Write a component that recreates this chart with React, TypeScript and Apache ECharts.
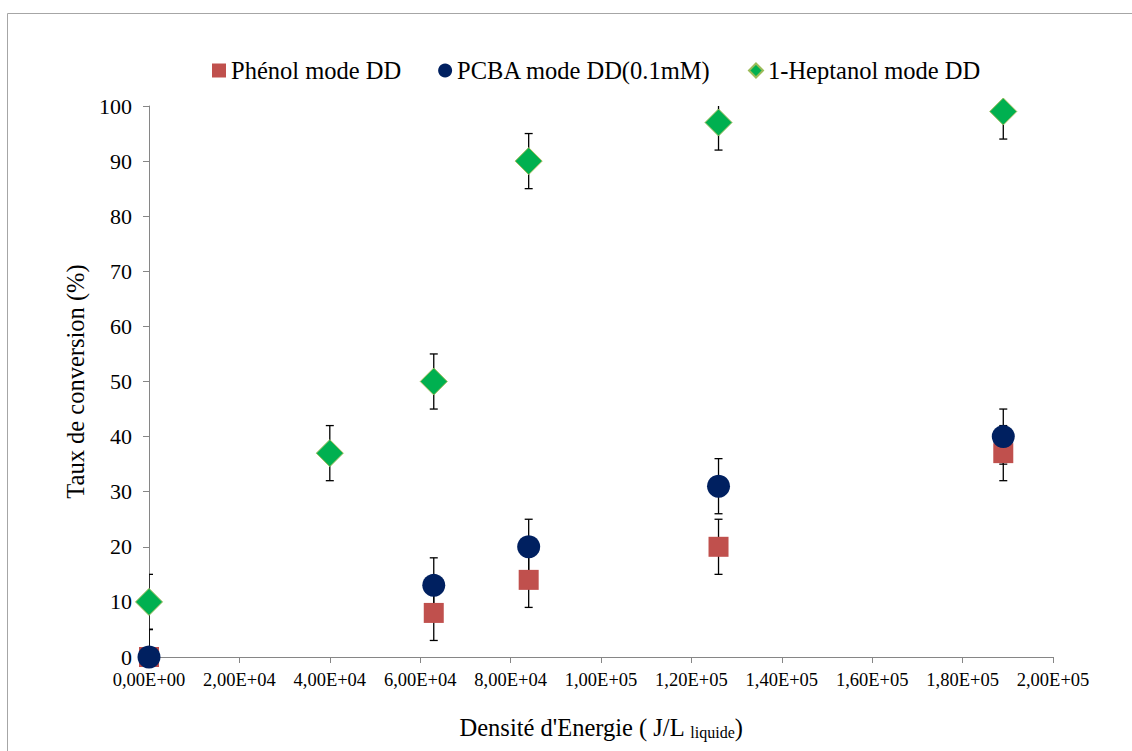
import React, { useEffect, useRef } from "react";
import * as echarts from "echarts";

const FONT = "Liberation Serif";

const seriesNames = ["Phénol mode DD", "PCBA mode DD(0.1mM)", "1-Heptanol mode DD"];

const phenolX = [0, 63000, 84000, 126000, 189000];
const phenolY = [0, 8, 14, 20, 37];
const phenolErr = [5, 5, 5, 5, 5];

const pcbaX = [0, 63000, 84000, 126000, 189000];
const pcbaY = [0, 13, 20, 31, 40];
const pcbaErr = [5, 5, 5, 5, 5];

const heptX = [0, 40000, 63000, 84000, 126000, 189000];
const heptY = [10, 37, 50, 90, 97, 99];
const heptErr = [5, 5, 5, 5, 5, 5];

const xTickValues = [0, 20000, 40000, 60000, 80000, 100000, 120000, 140000, 160000, 180000, 200000];
const yTickValues = [0, 10, 20, 30, 40, 50, 60, 70, 80, 90, 100];

const colors = ["#C0504D", "#002060", "#00B050"];

function sci(v: number): string {
  if (v === 0) return "0,00E+00";
  const e = Math.floor(Math.log10(v) + 1e-9);
  const m = v / Math.pow(10, e);
  const ee = (e < 10 ? "0" : "") + e;
  return m.toFixed(2).replace(".", ",") + "E+" + ee;
}

function errData(xs: number[], ys: number[], errs: number[]) {
  return xs.map((x, i) => [x, ys[i], ys[i] - errs[i], ys[i] + errs[i]]);
}

function pts(xs: number[], ys: number[]) {
  return xs.map((x, i) => [x, ys[i]]);
}

const renderErr = (params: any, api: any) => {
  const x = api.value(0);
  const lo = api.coord([x, api.value(2)]);
  const hi = api.coord([x, api.value(3)]);
  const hw = 4;
  const style = { stroke: "#000", lineWidth: 1.3 };
  return {
    type: "group",
    children: [
      { type: "line", shape: { x1: lo[0], y1: lo[1], x2: hi[0], y2: hi[1] }, style },
      { type: "line", shape: { x1: lo[0] - hw, y1: lo[1], x2: lo[0] + hw, y2: lo[1] }, style },
      { type: "line", shape: { x1: hi[0] - hw, y1: hi[1], x2: hi[0] + hw, y2: hi[1] }, style },
    ],
  };
};

export default function App() {
  const ref = useRef<HTMLDivElement>(null);
  useEffect(() => {
    if (!ref.current) return;
    const chart = echarts.init(ref.current, null, { renderer: "svg" });
    const axisLine = { lineStyle: { color: "#868686", width: 1 } };
    chart.setOption({
      animation: false,
      backgroundColor: "#fff",
      textStyle: { fontFamily: FONT },
      graphic: [
        {
          type: "rect",
          shape: { x: 7.5, y: 13.5, width: 1300, height: 900 },
          style: { fill: "none", stroke: "#A6A6A6", lineWidth: 1 },
          silent: true,
          z: -10,
        },
      ],
      legend: {
        top: 53,
        left: 207,
        itemGap: 37,
        itemWidth: 14,
        itemHeight: 14,
        textStyle: { fontFamily: FONT, fontSize: 24.5, color: "#000" },
        data: [
          { name: seriesNames[0], icon: "rect" },
          { name: seriesNames[1], icon: "circle" },
          { name: seriesNames[2], icon: "diamond" },
        ],
      },
      grid: { left: 149, right: 79, top: 106, bottom: 94, containLabel: false },
      xAxis: {
        type: "value",
        min: 0,
        max: 200000,
        interval: 20000,
        splitLine: { show: false },
        axisLine: { ...axisLine, onZero: false },
        axisTick: { show: true, length: 6, lineStyle: { color: "#868686" }, customValues: xTickValues },
        axisLabel: {
          fontFamily: FONT,
          fontSize: 18.5,
          color: "#000",
          margin: 13,
          formatter: (v: number) => sci(v),
          customValues: xTickValues,
        },
        name: "Densité d'Energie ( J/L {sub|liquide})",
        nameLocation: "middle",
        nameGap: 57,
        nameTextStyle: {
          fontFamily: FONT,
          fontSize: 24.5,
          color: "#000",
          rich: { sub: { fontFamily: FONT, fontSize: 16, color: "#000", padding: [10, 0, 0, 0] } },
        },
      },
      yAxis: {
        type: "value",
        min: 0,
        max: 100,
        interval: 10,
        splitLine: { show: false },
        axisLine: { show: true, ...axisLine },
        axisTick: { show: true, length: 6, lineStyle: { color: "#868686" }, customValues: yTickValues },
        axisLabel: { fontFamily: FONT, fontSize: 22, color: "#000", margin: 17, customValues: yTickValues },
        name: "Taux de conversion (%)",
        nameLocation: "middle",
        nameRotate: 90,
        nameGap: 44,
        nameTextStyle: { fontFamily: FONT, fontSize: 24.5, color: "#000" },
      },
      series: [
        {
          type: "custom",
          name: "errPhenol",
          renderItem: renderErr,
          data: errData(phenolX, phenolY, phenolErr),
          clip: true,
          z: 1,
          silent: true,
        },
        {
          type: "custom",
          name: "errPcba",
          renderItem: renderErr,
          data: errData(pcbaX, pcbaY, pcbaErr),
          clip: true,
          z: 1,
          silent: true,
        },
        {
          type: "custom",
          name: "errHept",
          renderItem: renderErr,
          data: errData(heptX, heptY, heptErr),
          clip: true,
          z: 1,
          silent: true,
        },
        {
          type: "scatter",
          name: seriesNames[0],
          symbol: "rect",
          symbolSize: 20,
          itemStyle: { color: colors[0], opacity: 1 },
          data: pts(phenolX, phenolY),
          z: 3,
        },
        {
          type: "scatter",
          name: seriesNames[1],
          symbol: "circle",
          symbolSize: 23,
          itemStyle: { color: colors[1], opacity: 1 },
          data: pts(pcbaX, pcbaY),
          z: 4,
        },
        {
          type: "scatter",
          name: seriesNames[2],
          symbol: "diamond",
          symbolSize: 27,
          itemStyle: { color: colors[2], borderColor: "#9BBB59", borderWidth: 1, opacity: 1 },
          data: pts(heptX, heptY),
          z: 5,
        },
      ],
    });
    return () => chart.dispose();
  }, []);
  return (
    <div
      ref={ref}
      style={{ position: "absolute", left: 0, top: 0, width: 1132, height: 751 }}
    />
  );
}
